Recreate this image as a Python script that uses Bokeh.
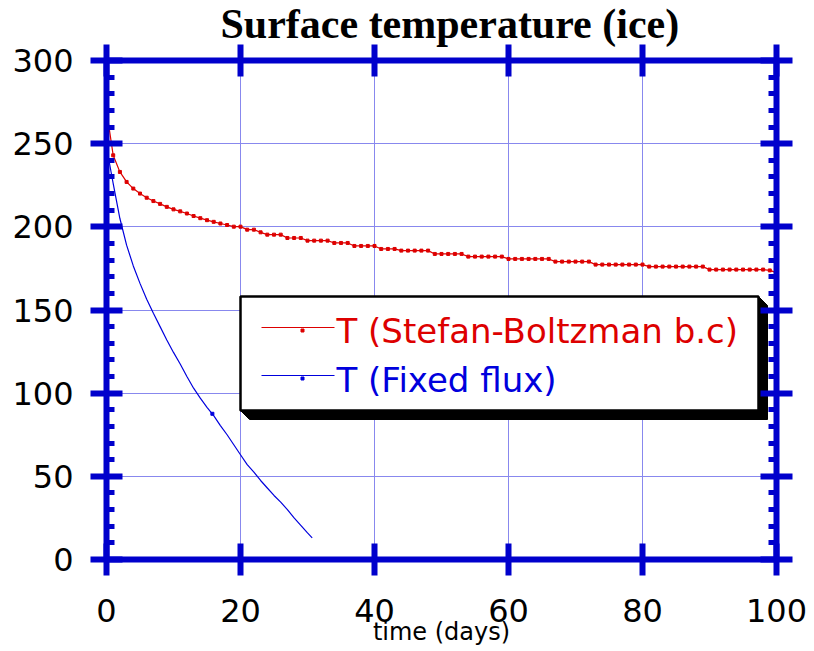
from bokeh.plotting import figure
from bokeh.models import LinearAxis, Range1d, FixedTicker, Grid, Title
from bokeh.embed import file_html
from bokeh.resources import INLINE
from bokeh.core.properties import value

# ---------------- data ----------------
title_text = "Surface temperature (ice)"
x_label_text = "time (days)"
x_ticks = [0, 20, 40, 60, 80, 100]
y_ticks = [0, 50, 100, 150, 200, 250, 300]
y_minor_ticks = [10, 20, 30, 40, 60, 70, 80, 90, 110, 120, 130, 140,
                 160, 170, 180, 190, 210, 220, 230, 240, 260, 270, 280, 290]
series_names = ["T (Stefan-Boltzman b.c)", "T (Fixed flux)"]

red_days = [0, 1, 2, 3, 4, 5, 6, 7, 8, 9, 10, 11, 12, 13, 14, 15, 16, 17, 18, 19,
            20, 21, 22, 23, 24, 25, 26, 27, 28, 29, 30, 31, 32, 33, 34, 35, 36, 37, 38, 39,
            40, 41, 42, 43, 44, 45, 46, 47, 48, 49, 50, 51, 52, 53, 54, 55, 56, 57, 58, 59,
            60, 61, 62, 63, 64, 65, 66, 67, 68, 69, 70, 71, 72, 73, 74, 75, 76, 77, 78, 79,
            80, 81, 82, 83, 84, 85, 86, 87, 88, 89, 90, 91, 92, 93, 94, 95, 96, 97, 98, 99, 100]
red_temp = [270, 243, 233, 227, 223, 220, 217.5, 215.5, 213.8, 212,
            210.5, 209.3, 208, 206.5, 205.2, 204, 203, 202, 201.1, 200.1,
            200.1, 198.3, 198.3, 196.7, 195.3, 195.3, 195.3, 193.3, 193.3, 193.3,
            191.7, 191.7, 191.7, 191.7, 190.3, 190.3, 190.3, 188.5, 188.5, 188.5,
            188.5, 186.7, 186.7, 186.7, 185.7, 185.7, 185.7, 185.7, 185.7, 183.7,
            183.7, 183.7, 183.7, 183.7, 182.1, 182.1, 182.1, 182.1, 182.1, 182.1,
            180.7, 180.7, 180.7, 180.7, 180.7, 180.7, 180.7, 179.1, 179.1, 179.1,
            179.1, 179.1, 179.1, 177.3, 177.3, 177.3, 177.3, 177.3, 177.3, 177.3,
            177.3, 176.1, 176.1, 176.1, 176.1, 176.1, 176.1, 176.1, 176.1, 176.1,
            174.3, 174.3, 174.3, 174.3, 174.3, 174.3, 174.3, 174.3, 174.3, 173.8, 172.5]

blue_days = [0, 1, 2, 3, 4, 5, 6, 7, 8, 9, 10, 11, 12, 13, 14, 15, 16, 17, 18, 19,
             20, 21, 22, 23, 24, 25, 26, 27, 28, 29, 30, 30.7]
blue_temp = [248, 226, 205, 189, 176.5, 166, 156.5, 148, 140, 132,
             124.5, 117.5, 110, 103, 97, 91.5, 86.5, 80.5, 75, 69,
             63, 57, 52.5, 47.5, 43, 38.5, 34.5, 30, 25, 20.5, 16, 13]
blue_mark_days = [15.8]
blue_mark_temp = [87.6]

# ---------------- style ----------------
AX = "#0000CC"
RED = "#DD0000"
BLUE = "#0000DD"
GRID = "#8888EE"
FONT = "DejaVu Sans"

W, H = 814, 651
FL, FR, FT, FB = 106, 776, 60, 559   # frame edges in pixels


def dx(px):
    return (px - FL) / (FR - FL) * (x_ticks[-1] - x_ticks[0]) + x_ticks[0]


def dy(py):
    return (FB - py) / (FB - FT) * (y_ticks[-1] - y_ticks[0]) + y_ticks[0]


p = figure(width=W, height=H, x_range=Range1d(0, 100), y_range=Range1d(0, 300),
           output_backend="svg", toolbar_location=None, title=None,
           x_axis_location=None, y_axis_location=None,
           min_border_left=FL, min_border_right=W - FR,
           min_border_top=FT, min_border_bottom=H - FB)
p.outline_line_color = None
p.background_fill_color = "white"
p.border_fill_color = "white"

xt = FixedTicker(ticks=x_ticks)
yt = FixedTicker(ticks=y_ticks, minor_ticks=y_minor_ticks)

p.add_layout(Grid(dimension=0, ticker=xt, grid_line_color=GRID, grid_line_width=1))
p.add_layout(Grid(dimension=1, ticker=yt, grid_line_color=GRID, grid_line_width=1))


def make_axis(ticker, labels, minor):
    ax = LinearAxis(ticker=ticker)
    ax.axis_line_color = AX
    ax.axis_line_width = 6
    ax.major_tick_line_color = AX
    ax.major_tick_line_width = 6
    ax.major_tick_in = 16
    ax.major_tick_out = 16
    if minor:
        ax.minor_tick_line_color = AX
        ax.minor_tick_line_width = 5
        ax.minor_tick_in = 8
        ax.minor_tick_out = 0
    else:
        ax.minor_tick_line_color = None
    if labels:
        ax.major_label_text_font = FONT
        ax.major_label_text_font_size = "32px"
        ax.major_label_text_color = "black"
    else:
        ax.major_label_text_font_size = "0px"
        ax.major_label_text_color = None
        ax.major_label_standoff = 0
    return ax


bottom = make_axis(xt, True, False)
bottom.major_label_standoff = 23
bottom.axis_label = x_label_text
bottom.axis_label_text_font = FONT
bottom.axis_label_text_font_size = "24px"
bottom.axis_label_text_font_style = "normal"
bottom.axis_label_text_color = "black"
bottom.axis_label_standoff = -7
left = make_axis(yt, True, True)
left.major_label_standoff = 17
top = make_axis(xt, False, False)
right = make_axis(yt, False, True)
p.add_layout(bottom, "below")
p.add_layout(left, "left")
p.add_layout(top, "above")
p.add_layout(right, "right")

p.add_layout(Title(text=title_text, text_font="Liberation Serif", text_font_style="bold",
                   text_font_size="42px", text_color="black", align="left",
                   offset=114, standoff=-4), "above")

# curves
p.line(red_days, red_temp, line_color=RED, line_width=1.2)
p.scatter(red_days, red_temp, marker="square", size=3, color=RED)
p.line(blue_days, blue_temp, line_color=BLUE, line_width=1.2)
p.scatter(blue_mark_days, blue_mark_temp, marker="square", size=3, color=BLUE)

# legend box with drop shadow
bl, br, bt, bb, off = 240, 758, 296, 410, 9
p.patch([dx(bl), dx(bl + off), dx(br + off), dx(br + off), dx(br)],
        [dy(bb), dy(bb + off), dy(bb + off), dy(bt + off), dy(bt)],
        fill_color="black", line_color="black", line_width=1)
p.quad(left=[dx(bl)], right=[dx(br)], top=[dy(bt)], bottom=[dy(bb)],
       fill_color="white", line_color="black", line_width=2.5)

leg_line_y = [327, 375]
p.segment(x0=[dx(261)] * 2, x1=[dx(334)] * 2,
          y0=[dy(v) for v in leg_line_y], y1=[dy(v) for v in leg_line_y],
          line_color=[RED, BLUE], line_width=1.2)
p.scatter([dx(302)] * 2, [dy(v + 3) for v in leg_line_y], marker="square", size=3,
          color=[RED, BLUE])
p.text(x=[dx(336)] * 2, y=[dy(330), dy(379)], text=series_names,
       text_color=[RED, BLUE], text_font=value(FONT), text_font_size="34px",
       text_baseline="alphabetic", text_align="left")

open("out.html", "w").write(file_html(p, INLINE))
